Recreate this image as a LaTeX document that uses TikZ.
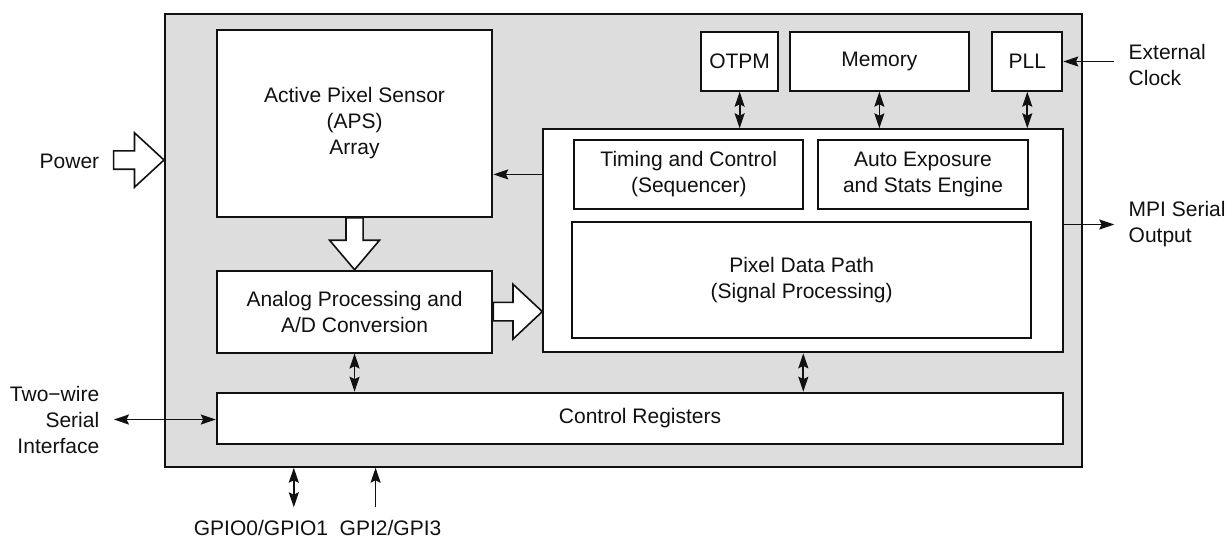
\documentclass[tikz,border=0pt]{standalone}
\usepackage{fontspec}
\setmainfont{Liberation Sans}
\usepackage{xcolor}
\usepackage{tikz}
\usetikzlibrary{calc,arrows.meta}
\definecolor{ink}{HTML}{111111}
\definecolor{chipbg}{HTML}{DDDDDD}
\newcommand{\blkfont}{\fontsize{10.5}{13}\selectfont}
\tikzset{
  wh/.style 2 args={minimum width=#1*0.5pt, minimum height=#2*0.5pt},
  chip/.style={draw=ink, fill=chipbg, line width=1pt, inner sep=0pt},
  blk/.style={draw=ink, fill=white, line width=1pt, inner sep=0pt, align=center, text=ink, font=\blkfont},
  link/.style={draw=ink, line width=0.85pt, -{Stealth[length=7.5pt,width=5pt,inset=1.2pt]}},
  dlink/.style={draw=ink, line width=0.85pt, {Stealth[length=7.5pt,width=5pt,inset=1.2pt]}-{Stealth[length=7.5pt,width=5pt,inset=1.2pt]}},
  fat/.style={draw=ink, fill=white, line width=0.8pt, line join=miter},
  lab/.style={text=ink, font=\blkfont, inner sep=0pt}
}

\begin{document}
\begin{tikzpicture}[x=0.5pt,y=-0.5pt]
  \useasboundingbox (0,0) rectangle (1228,538);

  \node[chip, wh={917.3}{452.4}] (chip) at (623.65,240.5) {};

  \node[blk, wh={275.5}{186.7}] (aps) at (354.55,123.35) {Active Pixel Sensor\\(APS)\\Array};
  \node[blk, wh={275.5}{81.8}] (adc) at (354.55,311.6) {Analog Processing and\\A/D Conversion};
  \node[blk, wh={520}{223}] (proc) at (803.3,240.8) {};
  \node[blk, wh={229}{69.8}] (timing) at (688.8,174.4) {Timing and Control\\(Sequencer)};
  \node[blk, wh={210.6}{69.8}] (aec) at (923,174.4) {Auto Exposure\\and Stats Engine};
  \node[blk, wh={458.7}{116}] (pdp) at (801.65,279.7) {Pixel Data Path\\(Signal Processing)};
  \node[blk, wh={77.3}{58.4}] (otpm) at (739.65,61.5) {OTPM};
  \node[blk, wh={179.3}{58.4}] (mem) at (879.35,61.5) {Memory};
  \node[blk, wh={70}{58.4}] (pll) at (1027.3,61.5) {PLL};
  \node[blk, wh={846.5}{51.6}] (regs) at (640.05,418.5) {Control Registers};

  \node[lab, anchor=east] (pwrlab) at (99.6,161.5) {Power};
  \node[lab, anchor=west, align=left] (clklab) at (1128.3,64.5) {External\\Clock};
  \node[lab, anchor=west, align=left] (mpilab) at (1128.3,224.5) {MPI Serial\\Output};
  \node[lab, anchor=east, align=right] (twlab) at (99.6,419.5) {Two−wire\\Serial\\Interface};
  \node[lab] (giolab) at (261,528) {GPIO0/GPIO1};
  \node[lab] (gilab) at (390.5,528) {GPI2/GPI3};

  \coordinate (pwr) at (113.6,160);
  \coordinate (gio) at (293.8,507.3);
  \coordinate (gi) at (375.6,507.3);

  \draw[fat] ($(pwr)+(0,-9.2)$) -- ($(pwr -| chip.west)+(-29.5,-9.2)$) -- ++(0,-18)
    -- (pwr -| chip.west) -- ++(-29.5,27.2) -- ++(0,-18) -- ($(pwr)+(0,9.2)$) -- cycle;
  \draw[fat] ($(aps.south)+(-8.6,0)$) -- ($(adc.north)+(-8.6,-29.5)$) -- ++(-16.4,0)
    -- (adc.north) -- ++(25,-29.5) -- ++(-16.4,0) -- ($(aps.south)+(8.6,0)$) -- cycle;
  \draw[fat] ($(adc.east)+(0,-9.2)$) -- ($(adc.east -| proc.west)+(-29.3,-9.2)$) -- ++(0,-18.2)
    -- (adc.east -| proc.west) -- ++(-29.3,27.5) -- ++(0,-18.3) -- ($(adc.east)+(0,9.2)$) -- cycle;

  \draw[link] (proc.west |- timing.west) -- (aps.east |- timing.west);
  \draw[dlink] (otpm.south) -- (otpm.south |- proc.north);
  \draw[dlink] (mem.south) -- (mem.south |- proc.north);
  \draw[dlink] (pll.south) -- (pll.south |- proc.north);
  \draw[link] ($(clklab.west |- pll.east)+(-14,0)$) -- (pll.east);
  \draw[link] (proc.east |- mpilab.west) -- ($(mpilab.west)+(-14,0)$);
  \draw[dlink] (adc.south) -- (adc.south |- regs.north);
  \draw[dlink] (proc.south) -- (proc.south |- regs.north);
  \draw[dlink] ($(twlab.east)+(14.3,0)$) -- (twlab.east -| regs.west);
  \draw[dlink] (gio) -- (gio |- chip.south);
  \draw[link] (gi) -- (gi |- chip.south);
\end{tikzpicture}
\end{document}
